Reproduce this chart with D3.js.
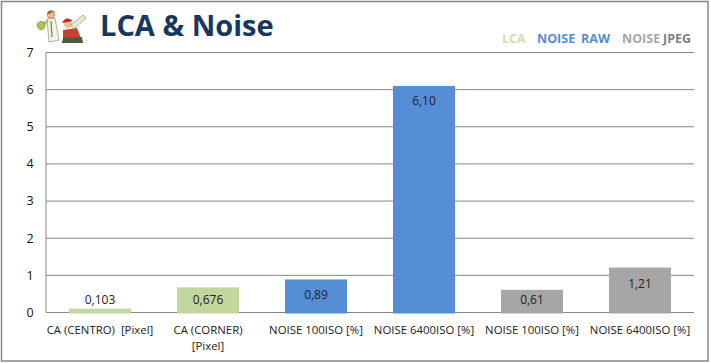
<!DOCTYPE html>
<html>
<head>
<meta charset="utf-8">
<script src="https://d3js.org/d3.v7.min.js"></script>
<style>
  html, body { margin: 0; padding: 0; background: #fff; }
  svg { display: block; }
  text { font-family: "Open Sans", sans-serif; }
</style>
</head>
<body>
<svg id="chart"></svg>
<script>
const categories = ["CA (CENTRO)  [Pixel]", "CA (CORNER) [Pixel]", "NOISE 100ISO [%]", "NOISE 6400ISO [%]", "NOISE 100ISO  [%]", "NOISE 6400ISO  [%]"];
const values = [0.103, 0.676, 0.89, 6.10, 0.61, 1.21];
const valueLabels = ["0,103", "0,676", "0,89", "6,10", "0,61", "1,21"];
const barColors = ["#c3d69b", "#c3d69b", "#558ed5", "#558ed5", "#a6a6a6", "#a6a6a6"];
const yTicks = [0, 1, 2, 3, 4, 5, 6, 7];

const width = 711, height = 363;
const margin = { top: 52.5, right: 17, bottom: 50.5, left: 46 };

const svg = d3.select("#chart").attr("width", width).attr("height", height);

// outer frame
svg.append("rect")
    .attr("x", 1.5).attr("y", 1.5)
    .attr("width", 706.5).attr("height", 359.5)
    .attr("fill", "#fff")
    .attr("stroke", "#868686")
    .attr("stroke-width", 1.5);

const x = d3.scaleBand()
    .domain(categories)
    .range([margin.left, width - margin.right])
    .paddingInner(0.426)
    .paddingOuter(0.213);

const y = d3.scaleLinear()
    .domain([0, 7])
    .range([height - margin.bottom, margin.top]);

// grid lines
svg.append("g")
    .selectAll("line")
    .data(yTicks)
    .join("line")
    .attr("x1", margin.left)
    .attr("x2", width - margin.right)
    .attr("y1", d => y(d))
    .attr("y2", d => y(d))
    .attr("stroke", "#868686")
    .attr("stroke-width", 1);

// left axis line
svg.append("line")
    .attr("x1", margin.left).attr("x2", margin.left)
    .attr("y1", y(7)).attr("y2", y(0))
    .attr("stroke", "#868686");

// y tick labels
svg.append("g")
    .selectAll("text")
    .data(yTicks)
    .join("text")
    .attr("x", 30)
    .attr("y", d => y(d) + 1)
    .attr("text-anchor", "middle")
    .attr("dominant-baseline", "middle")
    .attr("font-size", 12.5)
    .attr("fill", "#111")
    .text(d => d);

// bars
svg.append("g")
    .selectAll("rect")
    .data(values)
    .join("rect")
    .attr("x", (d, i) => x(categories[i]))
    .attr("y", d => y(d))
    .attr("width", x.bandwidth())
    .attr("height", d => y(0) - y(d) + 1)
    .attr("fill", (d, i) => barColors[i]);

// value labels were placed by hand in the original, so each gets its own offset from the bar top
const labelDy = [-4.5, 17, 20, 19, 14, 20];
svg.append("g")
    .selectAll("text")
    .data(values)
    .join("text")
    .attr("x", (d, i) => x(categories[i]) + x.bandwidth() / 2)
    .attr("y", (d, i) => y(d) + labelDy[i])
    .attr("text-anchor", "middle")
    .attr("font-size", 12)
    .attr("fill", "#222")
    .text((d, i) => valueLabels[i]);

// category labels, wrapped by hand where the original wraps
const catLines = [["CA (CENTRO)  [Pixel]"], ["CA (CORNER)", "[Pixel]"], ["NOISE 100ISO [%]"], ["NOISE 6400ISO [%]"], ["NOISE 100ISO [%]"], ["NOISE 6400ISO [%]"]];
const catG = svg.append("g");
catLines.forEach((lines, i) => {
    lines.forEach((line, j) => {
        catG.append("text")
            .attr("x", x(categories[i]) + x.bandwidth() / 2)
            .attr("y", 334 + j * 16)
            .attr("text-anchor", "middle")
            .attr("font-size", 11.4)
            .attr("fill", "#222")
            .style("white-space", "pre")
            .text(line);
    });
});

// title
svg.append("text")
    .attr("x", 100).attr("y", 36)
    .attr("font-size", 29)
    .attr("font-weight", 700)
    .attr("fill", "#17375e")
    .text("LCA & Noise");

// legend words
const legendItems = [
    { t: "LCA", x: 502, c: "#d0dfae" },
    { t: "NOISE", x: 537, c: "#558ed5" },
    { t: "RAW", x: 581, c: "#558ed5" },
    { t: "NOISE", x: 622, c: "#a6a6a6" },
    { t: "JPEG", x: 663, c: "#7f7f7f" }
];
svg.append("g")
    .selectAll("text")
    .data(legendItems)
    .join("text")
    .attr("x", d => d.x)
    .attr("y", 43)
    .attr("font-size", 12.5)
    .attr("font-weight", 700)
    .attr("fill", d => d.c)
    .text(d => d.t);

// small cartoon logo
const logo = svg.append("g").attr("transform", "translate(36,9)");
// doctor
logo.append("path").attr("d", "M11 10 L19 9 L23 31 L13 33 Z").attr("fill", "#f6f4e6").attr("stroke", "#8b7a5c").attr("stroke-width", 0.6);
logo.append("path").attr("d", "M15 12 L16 28").attr("stroke", "#5f8a6a").attr("stroke-width", 1.2);
logo.append("path").attr("d", "M12 11 L6 17").attr("stroke", "#d9a67a").attr("stroke-width", 2.2);
logo.append("circle").attr("cx", 15).attr("cy", 5.5).attr("r", 3.8).attr("fill", "#eebf95").attr("stroke", "#a5673a").attr("stroke-width", 0.6);
logo.append("path").attr("d", "M11 5 Q13 -1 19 3 Q15 3 14 5 Z").attr("fill", "#a5673a");
logo.append("path").attr("d", "M1 15 Q5 10 9 14 Q10 20 5 21 Q1 20 1 15 Z").attr("fill", "#a6c84c").attr("stroke", "#5d7a22").attr("stroke-width", 0.5);
// red figure
logo.append("path").attr("d", "M27 21 L41 19 L46 32 L27 34 Z").attr("fill", "#c8402f");
logo.append("path").attr("d", "M27 29 L46 28 L47 34 L26 34 Z").attr("fill", "#4c5a3a");
logo.append("circle").attr("cx", 32).attr("cy", 15).attr("r", 4).attr("fill", "#eebf95");
logo.append("path").attr("d", "M26 14 Q30 6 37 12 Z").attr("fill", "#b92c25");
logo.append("path").attr("d", "M35 16 L47 6 L50 9 L38 20 Z").attr("fill", "#e9e6d2").attr("stroke", "#8b8668").attr("stroke-width", 0.6);
</script>
</body>
</html>
